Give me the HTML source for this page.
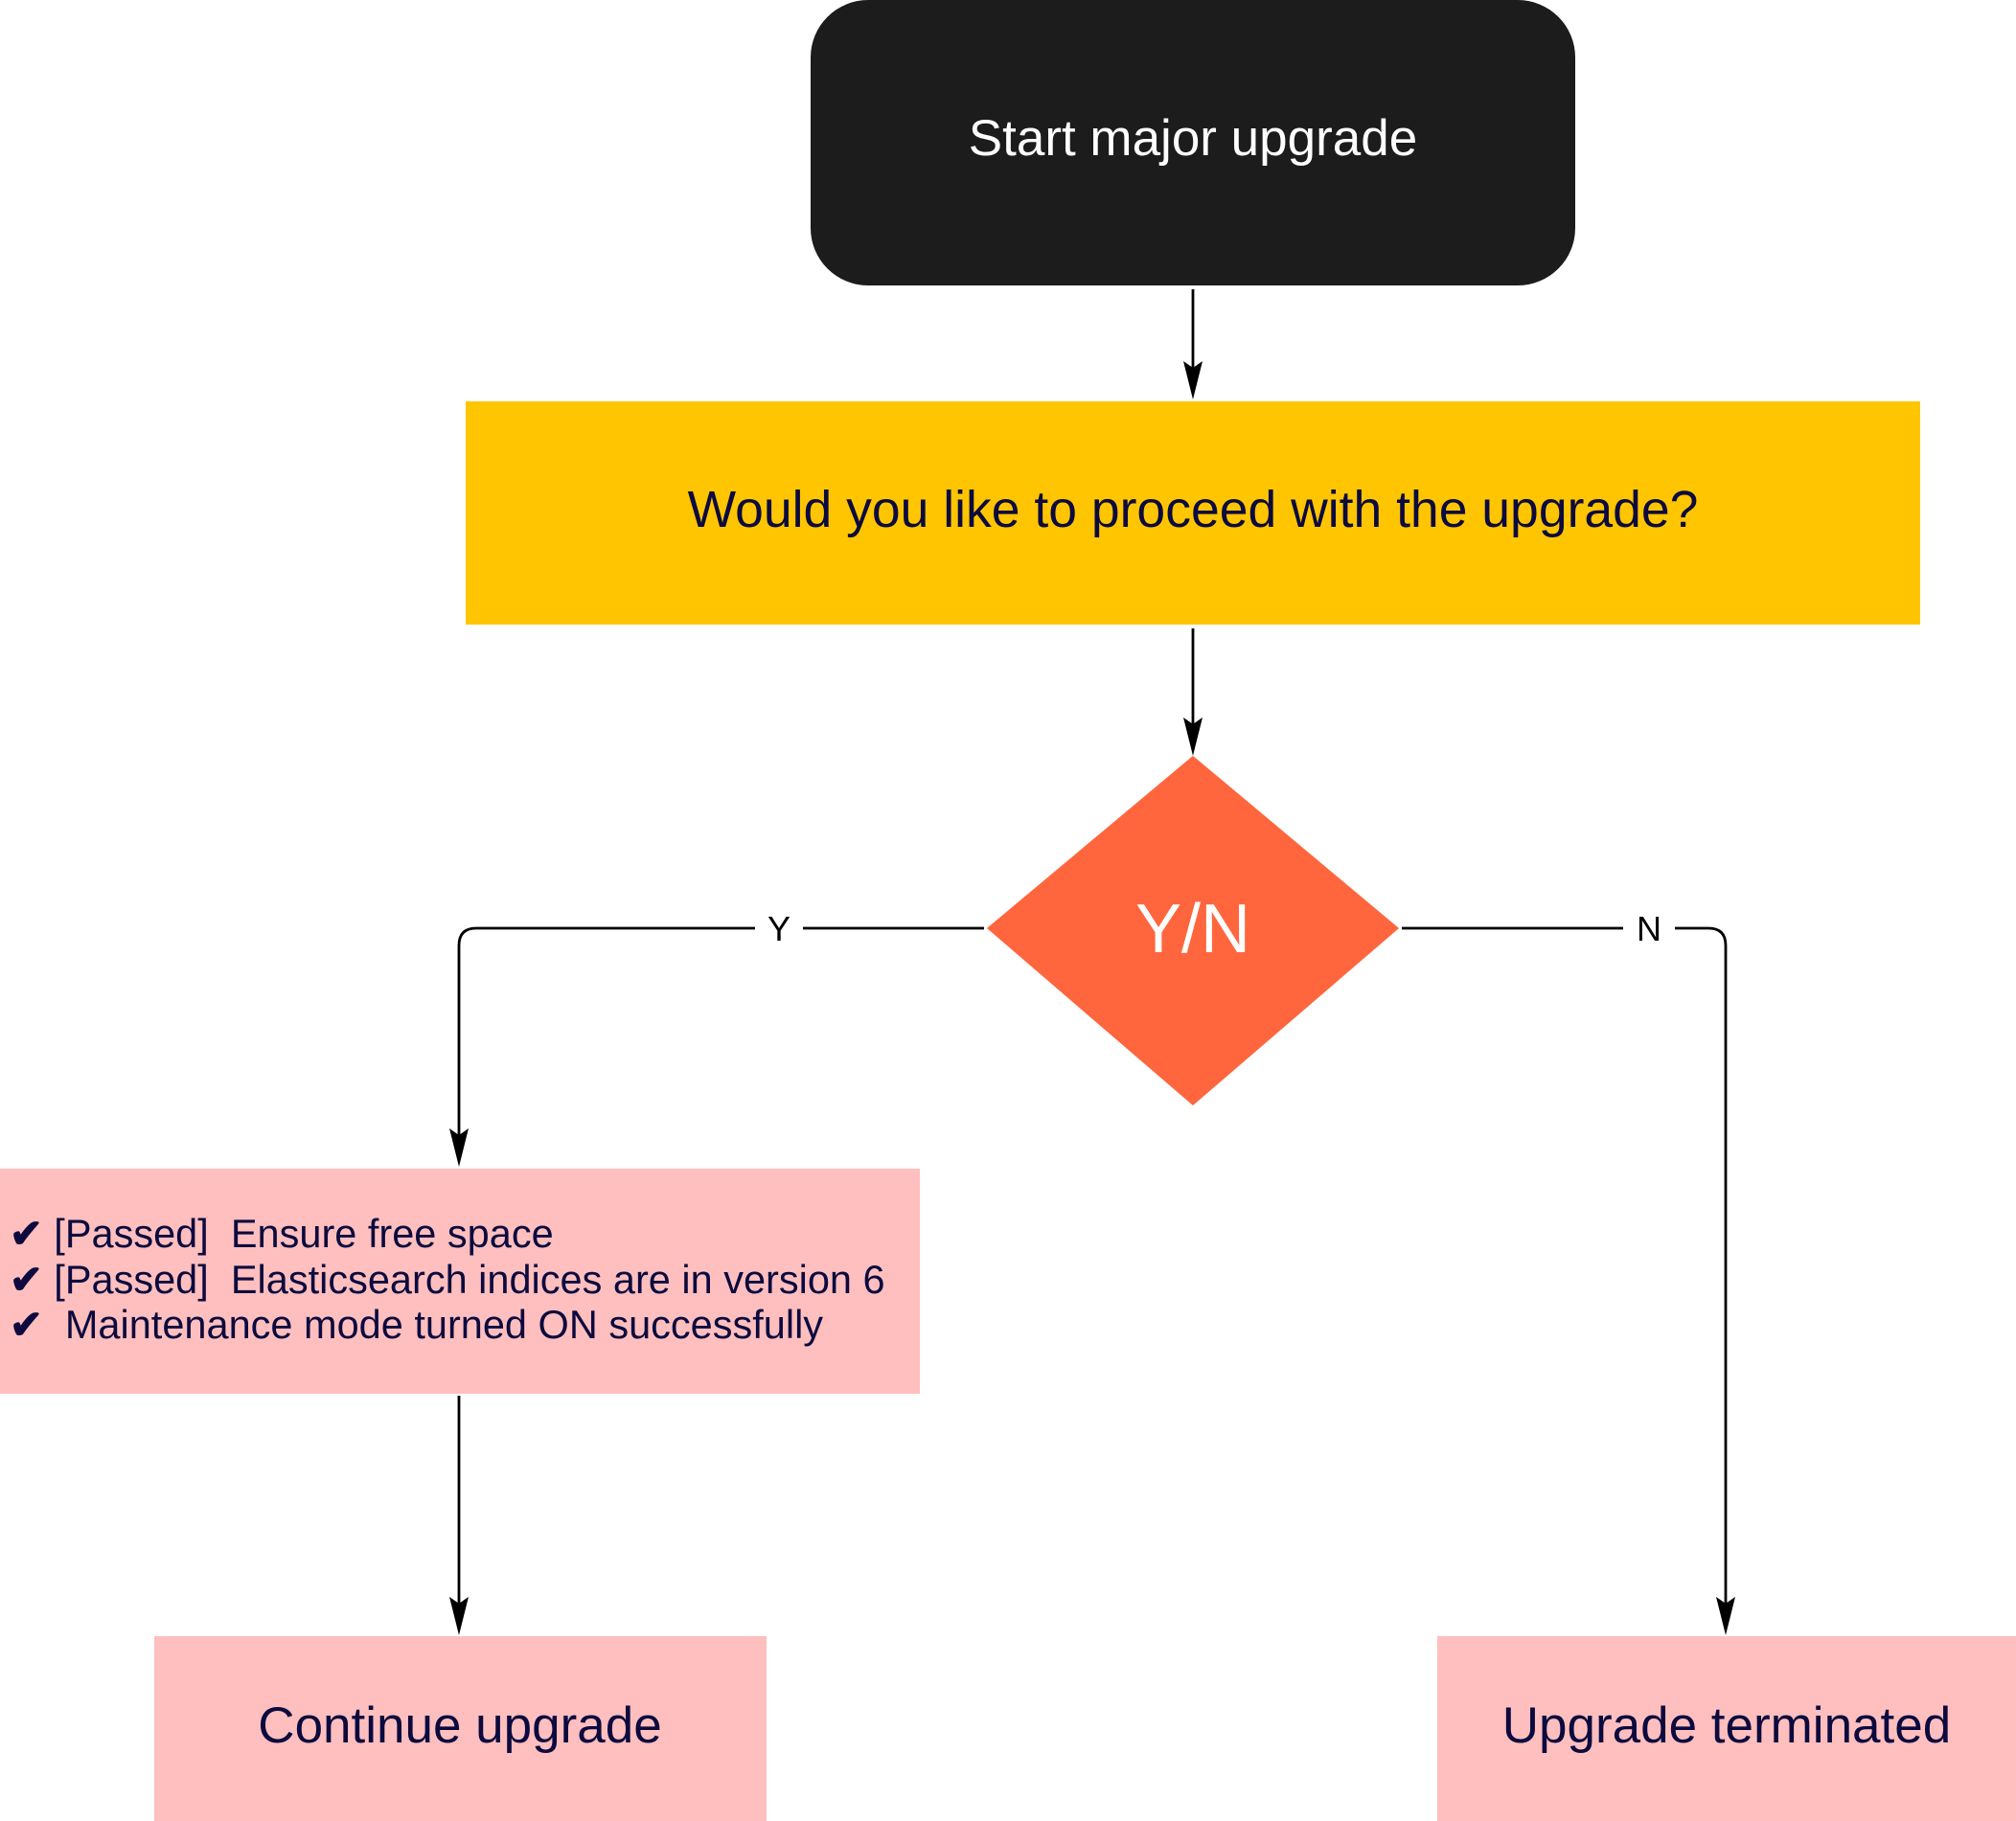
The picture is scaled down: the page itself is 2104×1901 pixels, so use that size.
<!DOCTYPE html>
<html><head><meta charset="utf-8"><style>
html,body{margin:0;padding:0;background:#fff;width:2104px;height:1901px;overflow:hidden}
svg{display:block}
text{font-family:"Liberation Sans",Arial,sans-serif;white-space:pre}
</style></head><body>
<svg width="2104" height="1901" viewBox="0 0 2104 1901" xmlns="http://www.w3.org/2000/svg">
<rect x="0" y="0" width="2104" height="1901" fill="#fff"/>
<rect x="846" y="0" width="798" height="298" rx="60" ry="60" fill="#1c1c1c"/>
<text x="1245" y="162" font-size="53" fill="#fff" text-anchor="middle">Start major upgrade</text>
<line x1="1245" y1="302" x2="1245" y2="395" stroke="#000" stroke-width="2.8"/>
<polygon points="1245,417 1235,377 1245,384 1255,377" fill="#000"/>
<rect x="486" y="419" width="1518" height="233" fill="#ffc501"/>
<text x="1245" y="550" font-size="53.5" fill="#0c0a3e" text-anchor="middle">Would you like to proceed with the upgrade?</text>
<line x1="1245" y1="656" x2="1245" y2="767" stroke="#000" stroke-width="2.8"/>
<polygon points="1245,789 1235,749 1245,756 1255,749" fill="#000"/>
<polygon points="1245,789 1460,969 1245,1154 1030,969" fill="#ff663d"/>
<text x="1245" y="994" font-size="72" fill="#fff" text-anchor="middle">Y/N</text>
<path d="M1027,969 L497,969 Q479,969 479,987 L479,1196" fill="none" stroke="#000" stroke-width="2.8"/>
<polygon points="479,1218 469,1178 479,1185 489,1178" fill="#000"/>
<rect x="788" y="948" width="50" height="40" fill="#fff"/>
<text x="813" y="982" font-size="36" fill="#000" text-anchor="middle">Y</text>
<path d="M1463,969 L1783,969 Q1801,969 1801,987 L1801,1685" fill="none" stroke="#000" stroke-width="2.8"/>
<polygon points="1801,1707 1791,1667 1801,1674 1811,1667" fill="#000"/>
<rect x="1694" y="948" width="54" height="40" fill="#fff"/>
<text x="1721" y="982" font-size="36" fill="#000" text-anchor="middle">N</text>
<rect x="0" y="1220" width="960" height="235" fill="#ffbfbf"/>
<text x="10" y="1302" font-size="41.5" fill="#0c0a3e"><tspan font-weight="bold">✔</tspan> [Passed]  Ensure free space</text>
<text x="10" y="1350" font-size="41.5" fill="#0c0a3e"><tspan font-weight="bold">✔</tspan> [Passed]  Elasticsearch indices are in version 6</text>
<text x="10" y="1397" font-size="41.5" fill="#0c0a3e"><tspan font-weight="bold">✔</tspan>  Maintenance mode turned ON successfully</text>
<line x1="479" y1="1457" x2="479" y2="1685" stroke="#000" stroke-width="2.8"/>
<polygon points="479,1707 469,1667 479,1674 489,1667" fill="#000"/>
<rect x="161" y="1708" width="639" height="193" fill="#ffbfbf"/>
<text x="480" y="1819" font-size="53" fill="#0c0a3e" text-anchor="middle">Continue upgrade</text>
<rect x="1500" y="1708" width="604" height="193" fill="#ffbfbf"/>
<text x="1802" y="1819" font-size="53" fill="#0c0a3e" text-anchor="middle">Upgrade terminated</text>
</svg>
</body></html>
